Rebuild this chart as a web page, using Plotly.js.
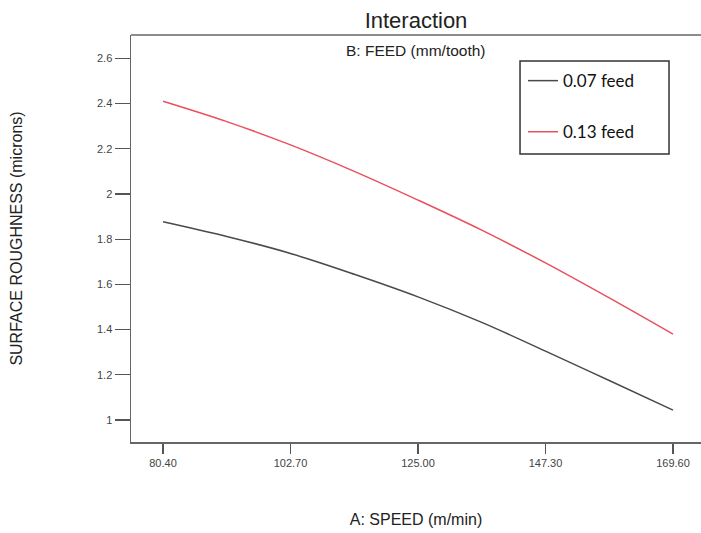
<!DOCTYPE html>
<html>
<head>
<meta charset="utf-8">
<script src="https://cdn.plot.ly/plotly-3.0.1.min.js"></script>
<style>html,body{margin:0;padding:0;background:#fff;}#chart{width:701px;height:533px;}</style>
</head>
<body>
<div id="chart"></div>
<script>
// A: SPEED (m/min)
const speed = [80.4, 91.55, 102.7, 113.85, 125.0, 136.15, 147.3, 158.45, 169.6];
// Surface roughness (microns), feed 0.07
const feed007 = [1.877, 1.812, 1.737, 1.645, 1.545, 1.432, 1.305, 1.175, 1.044];
// Surface roughness (microns), feed 0.13
const feed013 = [2.41, 2.32, 2.217, 2.10, 1.973, 1.84, 1.695, 1.54, 1.38];
const seriesNames = ["0.07 feed", "0.13 feed"];
const xTickVals = [80.4, 102.7, 125.0, 147.3, 169.6];
const xTickText = ["80.40", "102.70", "125.00", "147.30", "169.60"];
const yTickVals = [1, 1.2, 1.4, 1.6, 1.8, 2, 2.2, 2.4, 2.6];
const yTickText = ["1", "1.2", "1.4", "1.6", "1.8", "2", "2.2", "2.4", "2.6"];

const traces = [
  {x: speed, y: feed007, name: seriesNames[0], mode: "lines", type: "scatter",
   legendgroup: "a", line: {color: "#4a4a4a", width: 1.5, shape: "spline"}},
  {x: speed, y: feed013, name: seriesNames[1], mode: "lines", type: "scatter",
   legendgroup: "b", line: {color: "#e8505e", width: 1.5, shape: "spline"}}
];

const sans = "Liberation Sans, Arial, sans-serif";
const axisFont = {family: sans, size: 11, color: "#444"};
const layout = {
  width: 701, height: 533,
  margin: {l: 131, r: 0, t: 35, b: 91},
  paper_bgcolor: "#fff", plot_bgcolor: "#fff",
  showlegend: true,
  title: {text: "Interaction", x: 0.5, xref: "paper", y: 0.962, yref: "container", yanchor: "middle",
          font: {family: sans, size: 22, color: "#222"}},
  xaxis: {
    range: [74.8, 174.5], showgrid: false, zeroline: false,
    showline: true, linecolor: "#666", linewidth: 1.5,
    ticks: "outside", ticklen: 10, tickwidth: 1.2, tickcolor: "#555",
    tickvals: xTickVals, ticktext: xTickText, tickfont: axisFont,
    title: {text: "A: SPEED (m/min)", standoff: 46,
            font: {family: sans, size: 16, color: "#222"}}
  },
  yaxis: {
    range: [0.903, 2.703], showgrid: false, zeroline: false,
    showline: true, linecolor: "#666", linewidth: 1.5,
    ticks: "outside", ticklen: 15, tickwidth: 1.2, tickcolor: "#555",
    tickvals: yTickVals, ticktext: yTickText, tickfont: axisFont,
    title: {text: "SURFACE ROUGHNESS (microns)", standoff: 70,
            font: {family: sans, size: 16, color: "#222"}}
  },
  shapes: [
    {type: "line", xref: "paper", yref: "paper", x0: 0, x1: 1, y0: 1, y1: 1,
     line: {color: "#666", width: 1.5}},
    {type: "rect", xref: "paper", yref: "paper", x0: 0.6825, x1: 0.9439, y0: 0.7076, y1: 0.9361,
     layer: "above", fillcolor: "rgba(0,0,0,0)", line: {color: "#333", width: 1.5}}
  ],
  annotations: [
    {text: "B: FEED (mm/tooth)", xref: "paper", yref: "paper", x: 0.5, y: 0.962,
     xanchor: "center", yanchor: "middle", showarrow: false,
     font: {family: sans, size: 15.5, color: "#222"}}
  ],
  legend: {
    x: 0.6877, y: 0.931, xanchor: "left", yanchor: "top",
    bgcolor: "rgba(0,0,0,0)", borderwidth: 0,
    traceorder: "grouped", tracegroupgap: 26,
    font: {family: "Lato, sans-serif", size: 17, color: "#111"},
    itemwidth: 30
  }
};

Plotly.newPlot("chart", traces, layout, {displayModeBar: false, staticPlot: true});
</script>
</body>
</html>
